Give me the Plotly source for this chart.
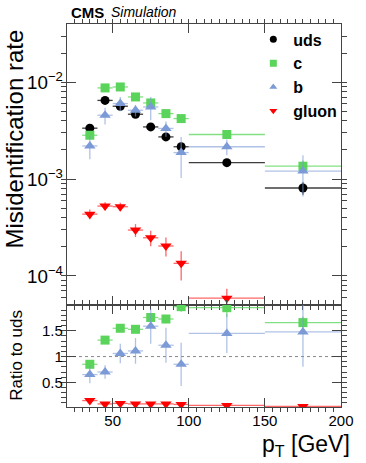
import plotly.graph_objects as go

# bins in pT [GeV]
pt = [35, 45, 55, 65, 75, 85, 95, 125, 175]
pt_halfwidth = [5, 5, 5, 5, 5, 5, 5, 25, 25]

# misidentification rate (top panel)
uds = [3.36e-3, 6.5e-3, 5.66e-3, 4.68e-3, 3.46e-3, 2.73e-3, 2.16e-3, 1.48e-3, 8.1e-4]
uds_err = [0.3e-3, 0.45e-3, 0.4e-3, 0.35e-3, 0.2e-3, 0.2e-3, 0.2e-3, 0.1e-3, 0.12e-3]
c = [2.84e-3, 8.75e-3, 8.95e-3, 7.06e-3, 6.12e-3, 4.75e-3, 4.22e-3, 2.89e-3, 1.36e-3]
c_err = [0.2e-3, 0.35e-3, 0.35e-3, 0.3e-3, 0.3e-3, 0.25e-3, 0.2e-3, 0.15e-3, 0.2e-3]
b = [2.2e-3, 4.57e-3, 6.03e-3, 5.14e-3, 5.56e-3, 3.34e-3, 1.88e-3, 2.16e-3, 1.21e-3]
b_err = [0.6e-3, 0.9e-3, 1.0e-3, 0.7e-3, 1.5e-3, 0.6e-3, 0.85e-3, 0.4e-3, 0.55e-3]
gluon = [4.35e-4, 5.27e-4, 5.19e-4, 2.98e-4, 2.48e-4, 2.04e-4, 1.35e-4, 5.9e-5, 2.0e-5]
gluon_err = [0.5e-4, 0.5e-4, 0.5e-4, 0.45e-4, 0.45e-4, 0.45e-4, 0.45e-4, 1.5e-5, 1.0e-5]

# ratio to uds (bottom panel)
c_ratio = [0.85, 1.32, 1.55, 1.53, 1.76, 1.73, 1.97, 1.95, 1.66]
c_ratio_err = [0.07, 0.06, 0.07, 0.07, 0.08, 0.08, 0.1, 0.18, 0.12]
b_ratio = [0.65, 0.70, 1.06, 1.11, 1.59, 1.22, 0.85, 1.45, 1.48]
b_ratio_err = [0.17, 0.13, 0.19, 0.25, 0.34, 0.34, 0.42, 0.38, 0.68]
g_ratio = [0.145, 0.08, 0.09, 0.08, 0.08, 0.08, 0.07, 0.05, 0.03]
g_ratio_err = [0.03, 0.02, 0.02, 0.02, 0.02, 0.02, 0.02, 0.01, 0.01]
ratio_ref = 1.0

FONT = "Liberation Sans, Arial, Helvetica, sans-serif"

styles = {
    'uds': dict(color='black', err='rgba(40,40,40,0.9)', symbol='circle', size=9),
    'c': dict(color='#5ad45a', err='rgba(90,212,90,0.75)', symbol='square', size=9),
    'b': dict(color='#7b9ad6', err='rgba(123,154,214,0.6)', symbol='triangle-up', size=10),
    'gluon': dict(color='#ff0000', err='rgba(255,0,0,0.6)', symbol='triangle-down', size=10),
}

fig = go.Figure()

def add(name, y, yerr, xa, ya):
    s = styles[name]
    fig.add_trace(go.Scatter(
        x=pt, y=y, mode='markers', name=name, showlegend=False,
        xaxis=xa, yaxis=ya,
        marker=dict(color=s['color'], symbol=s['symbol'], size=s['size']),
        error_x=dict(type='data', array=pt_halfwidth, width=0, color=s['err'], thickness=1.3),
        error_y=dict(type='data', array=yerr, width=0, color=s['err'], thickness=1.3),
    ))

add('uds', uds, uds_err, 'x', 'y')
add('c', c, c_err, 'x', 'y')
add('b', b, b_err, 'x', 'y')
add('gluon', gluon, gluon_err, 'x', 'y')

add('c', c_ratio, c_ratio_err, 'x2', 'y2')
add('b', b_ratio, b_ratio_err, 'x2', 'y2')
add('gluon', g_ratio, g_ratio_err, 'x2', 'y2')

# legend entries with the small ROOT-style markers
for name in ['uds', 'c', 'b', 'gluon']:
    s = styles[name]
    fig.add_trace(go.Scatter(
        x=[None], y=[None], mode='markers', name=name, showlegend=True,
        marker=dict(color=s['color'], symbol=s['symbol'], size=7),
    ))

fig.add_shape(type='line', xref='x2', yref='y2', x0=20, x1=200, y0=ratio_ref, y1=ratio_ref,
              line=dict(color='#888', width=1, dash='dot'), layer='below')

axcommon = dict(showline=True, mirror='ticks', linecolor='#444', linewidth=1.2,
                ticks='inside', tickcolor='#444', showgrid=False, zeroline=False)

split = 0.266
fig.update_layout(
    width=366, height=463,
    margin=dict(l=67, r=15, t=24, b=56),
    plot_bgcolor='white', paper_bgcolor='white',
    font=dict(family=FONT, size=15, color='black'),
    xaxis=dict(domain=[0, 1], anchor='y', range=[20, 200], showticklabels=False,
               tickvals=[50, 100, 150, 200], ticklen=9,
               minor=dict(dtick=5, tick0=0, ticklen=4, tickcolor='#444'),
               **axcommon),
    yaxis=dict(domain=[split, 1], anchor='x', type='log',
               range=[-4.301, -1.398], dtick=1, exponentformat='power',
               ticklen=9, minor=dict(dtick='D1', ticklen=5, tickcolor='#444'),
               tickfont=dict(size=15), **axcommon),
    xaxis2=dict(domain=[0, 1], anchor='y2', range=[20, 200], matches='x',
                tickvals=[50, 100, 150, 200], ticklen=9,
                minor=dict(dtick=5, tick0=0, ticklen=4, tickcolor='#444'),
                tickfont=dict(size=15), **axcommon),
    yaxis2=dict(domain=[0, split], anchor='x2', range=[0.02, 2.0],
                tickvals=[0.5, 1, 1.5], ticktext=['0.5', '1', '1.5'], ticklen=9,
                minor=dict(dtick=0.1, tick0=0, ticklen=5, tickcolor='#444'),
                tickfont=dict(size=15), **axcommon),
    legend=dict(x=0.68, y=1.004, xanchor='left', yanchor='top',
                bgcolor='rgba(0,0,0,0)', borderwidth=0,
                font=dict(size=16, family=FONT, weight='bold'),
                itemwidth=30, tracegroupgap=0),
    showlegend=True,
)

fig.add_annotation(text='Misidentification rate', xref='paper', yref='paper',
                   x=-0.19, y=0.701, textangle=-90, showarrow=False,
                   font=dict(size=24), xanchor='center', yanchor='middle')
fig.add_annotation(text='Ratio to uds', xref='paper', yref='paper',
                   x=-0.183, y=0.136, textangle=-90, showarrow=False,
                   font=dict(size=17), xanchor='center', yanchor='middle')
fig.add_annotation(text='p<sub>T</sub> [GeV]', xref='paper', yref='paper',
                   x=1.04, y=-0.1, showarrow=False, font=dict(size=23),
                   xanchor='right', yanchor='middle')
fig.add_annotation(text='<b>CMS</b>', xref='paper', yref='paper',
                   x=0.008, y=1.031, showarrow=False, font=dict(size=15),
                   xanchor='left', yanchor='middle')
fig.add_annotation(text='<i>Simulation</i>', xref='paper', yref='paper',
                   x=0.155, y=1.031, showarrow=False, font=dict(size=14),
                   xanchor='left', yanchor='middle')

fig.write_html("out.html", config={'displayModeBar': False},
               post_script="document.body.style.margin='0';")
